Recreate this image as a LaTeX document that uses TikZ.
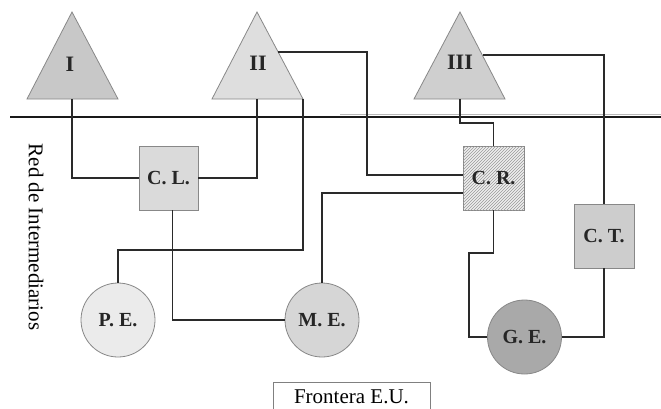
\documentclass[tikz,border=0pt]{standalone}
\usepackage{fontspec}
\setmainfont{Liberation Serif}
\usetikzlibrary{patterns}
\definecolor{triA}{HTML}{C8C8C8}
\definecolor{triB}{HTML}{DEDEDE}
\definecolor{triC}{HTML}{CFCFCF}
\definecolor{boxL}{HTML}{DADADA}
\definecolor{boxR}{HTML}{EEEEEE}
\definecolor{boxT}{HTML}{CDCDCD}
\definecolor{cirP}{HTML}{EBEBEB}
\definecolor{cirM}{HTML}{D6D6D6}
\definecolor{cirG}{HTML}{A9A9A9}
\definecolor{edge}{HTML}{888888}
\definecolor{wire}{HTML}{2A2A2A}
\tikzset{
  tri/.style={draw=edge, line width=0.8pt},
  lbl/.style={font=\fontsize{20}{24}\selectfont\bfseries, text=black!85},
  numlbl/.style={font=\fontsize{22}{26}\selectfont\bfseries, text=black!85},
  sq/.style={draw=edge, line width=0.8pt, minimum width=59pt, minimum height=64pt, inner sep=0pt, lbl},
  circ/.style={draw=edge, line width=0.8pt, circle, minimum size=74pt, inner sep=0pt, lbl},
  wirestyle/.style={draw=wire, line width=1.3pt}
}
\begin{document}
\begin{tikzpicture}[x=1pt,y=-1pt]
\useasboundingbox (0,0) rectangle (661,408);
\fill[white] (0,0) rectangle (661,408);

% horizontal border line
\draw[line width=1.6pt, gray!55] (340,114.5) -- (661,114.5);
\draw[line width=2.6pt, black!90] (10,117) -- (661,117);

% triangles
\filldraw[tri, fill=triA] (72,12) -- (118,99) -- (27,99) -- cycle;
\filldraw[tri, fill=triB] (257,12) -- (303,99) -- (212,99) -- cycle;
\filldraw[tri, fill=triC] (460,12) -- (505,99) -- (414,99) -- cycle;
\node[numlbl] (T1) at (70,64) {I};
\node[numlbl] (T2) at (258,63) {II};
\node[numlbl] (T3) at (460,62) {III};
\coordinate (t1b) at (72,99);
\coordinate (t2b) at (257,99);
\coordinate (t2c) at (303,99);
\coordinate (t2r) at (278,52);
\coordinate (t3b) at (460,99);
\coordinate (t3r) at (483,55);

% boxes
\node[sq, fill=boxL] (CL) at (168.5,178) {C. L.};
\node[sq, minimum width=61pt, fill=boxR, postaction={pattern=north east lines, pattern color=gray!80}] (CR) at (493.5,178) {C. R.};
\node[sq, minimum width=60pt, fill=boxT] (CT) at (604,236) {C. T.};

% circles
\node[circ, fill=cirP] (PE) at (118,320) {P. E.};
\node[circ, fill=cirM] (ME) at (322,320) {M. E.};
\node[circ, fill=cirG] (GE) at (524.5,337) {G. E.};

% connectors
\draw[wirestyle] (t1b) |- (CL.west);
\draw[wirestyle] (CL.east) -| (t2b);
\draw[wirestyle] (t2r) -| (367,175) -- ([yshift=3pt]CR.west);
\draw[wirestyle] (t2c) -- (303,250) -| (PE.north);
\draw[wirestyle] ([xshift=4pt]CL.south) |- (ME.west);
\draw[wirestyle] (ME.north) |- ([yshift=-15pt]CR.west);
\draw[wirestyle] (t3b) -- (460,123) -| (CR.north);
\draw[wirestyle] (t3r) -| (CT.north);
\draw[wirestyle] (CR.south) |- (469,253) |- (GE.west);
\draw[wirestyle] (GE.east) -| (CT.south);

% side label
\node[rotate=-90, font=\fontsize{21}{25}\selectfont] (RED) at (36,237) {Red de Intermediarios};

% bottom label
\draw[gray, line width=0.8pt] (273,414) -- (273,382) -- (430,382) -- (430,414);
\node[anchor=base, font=\fontsize{21}{25}\selectfont, inner sep=0pt] (FR) at (351.5,403) {Frontera E.U.};
\end{tikzpicture}
\end{document}
